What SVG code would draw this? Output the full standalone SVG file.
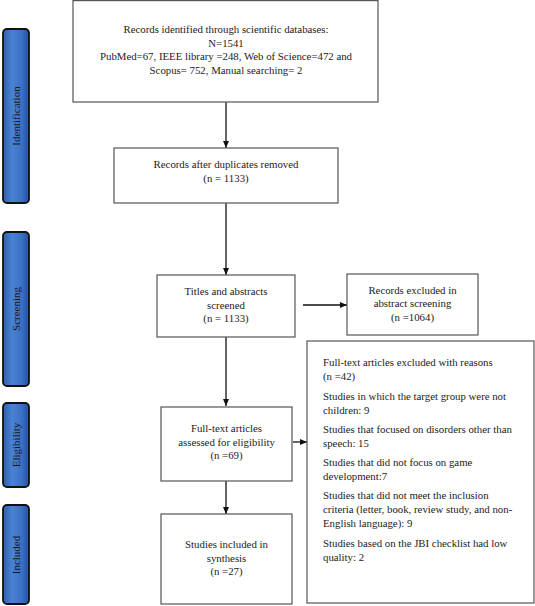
<svg xmlns="http://www.w3.org/2000/svg" width="535" height="606" viewBox="0 0 535 606">
<style>
.box{fill:#fff;stroke:#555;stroke-width:1.2}
.t{font-family:"Liberation Serif","Times New Roman",serif;font-size:10.8px;fill:#222}
.c{text-anchor:middle}
.side{stroke:#111;stroke-width:1.8;fill:url(#blue)}
.st{font-family:"Liberation Serif","Times New Roman",serif;font-size:11px;fill:#1a1a1a;text-anchor:middle}
.conn{stroke:#111;stroke-width:1.3;fill:none;marker-end:url(#ah)}
</style>
<defs>
<linearGradient id="blue" x1="0" y1="0" x2="1" y2="0">
<stop offset="0" stop-color="#2d5fae"/>
<stop offset="0.35" stop-color="#4a82d4"/>
<stop offset="0.7" stop-color="#3c72c6"/>
<stop offset="1" stop-color="#25529c"/>
</linearGradient>
<marker id="ah" markerWidth="8" markerHeight="8" refX="7" refY="4" orient="auto" markerUnits="userSpaceOnUse">
<path d="M0,1 L7,4 L0,7 Z" fill="#111"/>
</marker>
</defs>
<g id="side-identification">
<rect class="side" x="3" y="29" width="26" height="174" rx="4"/>
<text class="st" transform="translate(19.5,116) rotate(-90)">Identification</text>
</g>
<g id="side-screening">
<rect class="side" x="3" y="232" width="26" height="154" rx="4"/>
<text class="st" transform="translate(19.5,309) rotate(-90)">Screening</text>
</g>
<g id="side-eligibility">
<rect class="side" x="3" y="403" width="26" height="84" rx="4"/>
<text class="st" transform="translate(19.5,445) rotate(-90)">Eligibility</text>
</g>
<g id="side-included">
<rect class="side" x="3" y="505" width="26" height="99" rx="4"/>
<text class="st" transform="translate(19.5,555) rotate(-90)">Included</text>
</g>
<g id="connectors">
<line class="conn" x1="226" y1="102" x2="226" y2="148"/>
<line class="conn" x1="226" y1="203" x2="226" y2="275"/>
<line class="conn" x1="303" y1="305" x2="347" y2="305"/>
<line class="conn" x1="226" y1="337" x2="226" y2="406"/>
<line class="conn" x1="293" y1="442" x2="307" y2="442"/>
<line class="conn" x1="226" y1="481" x2="226" y2="514"/>
</g>
<g id="records-identified">
<rect class="box" x="73" y="0.6" width="305" height="101.4"/>
<text class="t c" x="226" y="33">Records identified through scientific databases:</text>
<text class="t c" x="226" y="46.5">N=1541</text>
<text class="t c" x="226" y="60">PubMed=67, IEEE library =248, Web of Science=472 and</text>
<text class="t c" x="226" y="73.5">Scopus= 752, Manual searching= 2</text>
</g>
<g id="duplicates-removed">
<rect class="box" x="114" y="148" width="224" height="55"/>
<text class="t c" x="226" y="168">Records after duplicates removed</text>
<text class="t c" x="226" y="181.5">(n = 1133)</text>
</g>
<g id="titles-screened">
<rect class="box" x="157" y="275" width="138" height="62"/>
<text class="t c" x="226" y="295">Titles and abstracts</text>
<text class="t c" x="226" y="308.5">screened</text>
<text class="t c" x="226" y="322">(n = 1133)</text>
</g>
<g id="records-excluded">
<rect class="box" x="347" y="274" width="131" height="61"/>
<text class="t c" x="412.5" y="293.5">Records excluded in</text>
<text class="t c" x="412.5" y="307">abstract screening</text>
<text class="t c" x="412.5" y="320.5">(n =1064)</text>
</g>
<g id="full-text-assessed">
<rect class="box" x="161" y="407" width="131" height="74"/>
<text class="t c" x="226.5" y="432">Full-text articles</text>
<text class="t c" x="226.5" y="445.5">assessed for eligibility</text>
<text class="t c" x="226.5" y="459">(n =69)</text>
</g>
<g id="studies-included">
<rect class="box" x="161" y="514" width="131" height="90"/>
<text class="t c" x="226.5" y="548">Studies included in</text>
<text class="t c" x="226.5" y="561.5">synthesis</text>
<text class="t c" x="226.5" y="575">(n =27)</text>
</g>
<g id="full-text-excluded">
<rect class="box" x="307" y="341" width="227" height="262"/>
<text class="t" x="323" y="366">Full-text articles excluded with reasons</text>
<text class="t" x="323" y="380">(n =42)</text>
<text class="t" x="323" y="400">Studies in which the target group were not</text>
<text class="t" x="323" y="414">children: 9</text>
<text class="t" x="323" y="433">Studies that focused on disorders other than</text>
<text class="t" x="323" y="447">speech: 15</text>
<text class="t" x="323" y="466">Studies that did not focus on game</text>
<text class="t" x="323" y="480">development:7</text>
<text class="t" x="323" y="499">Studies that did not meet the inclusion</text>
<text class="t" x="323" y="513">criteria (letter, book, review study, and non-</text>
<text class="t" x="323" y="527">English language): 9</text>
<text class="t" x="323" y="547">Studies based on the JBI checklist had low</text>
<text class="t" x="323" y="561">quality: 2</text>
</g>
</svg>
